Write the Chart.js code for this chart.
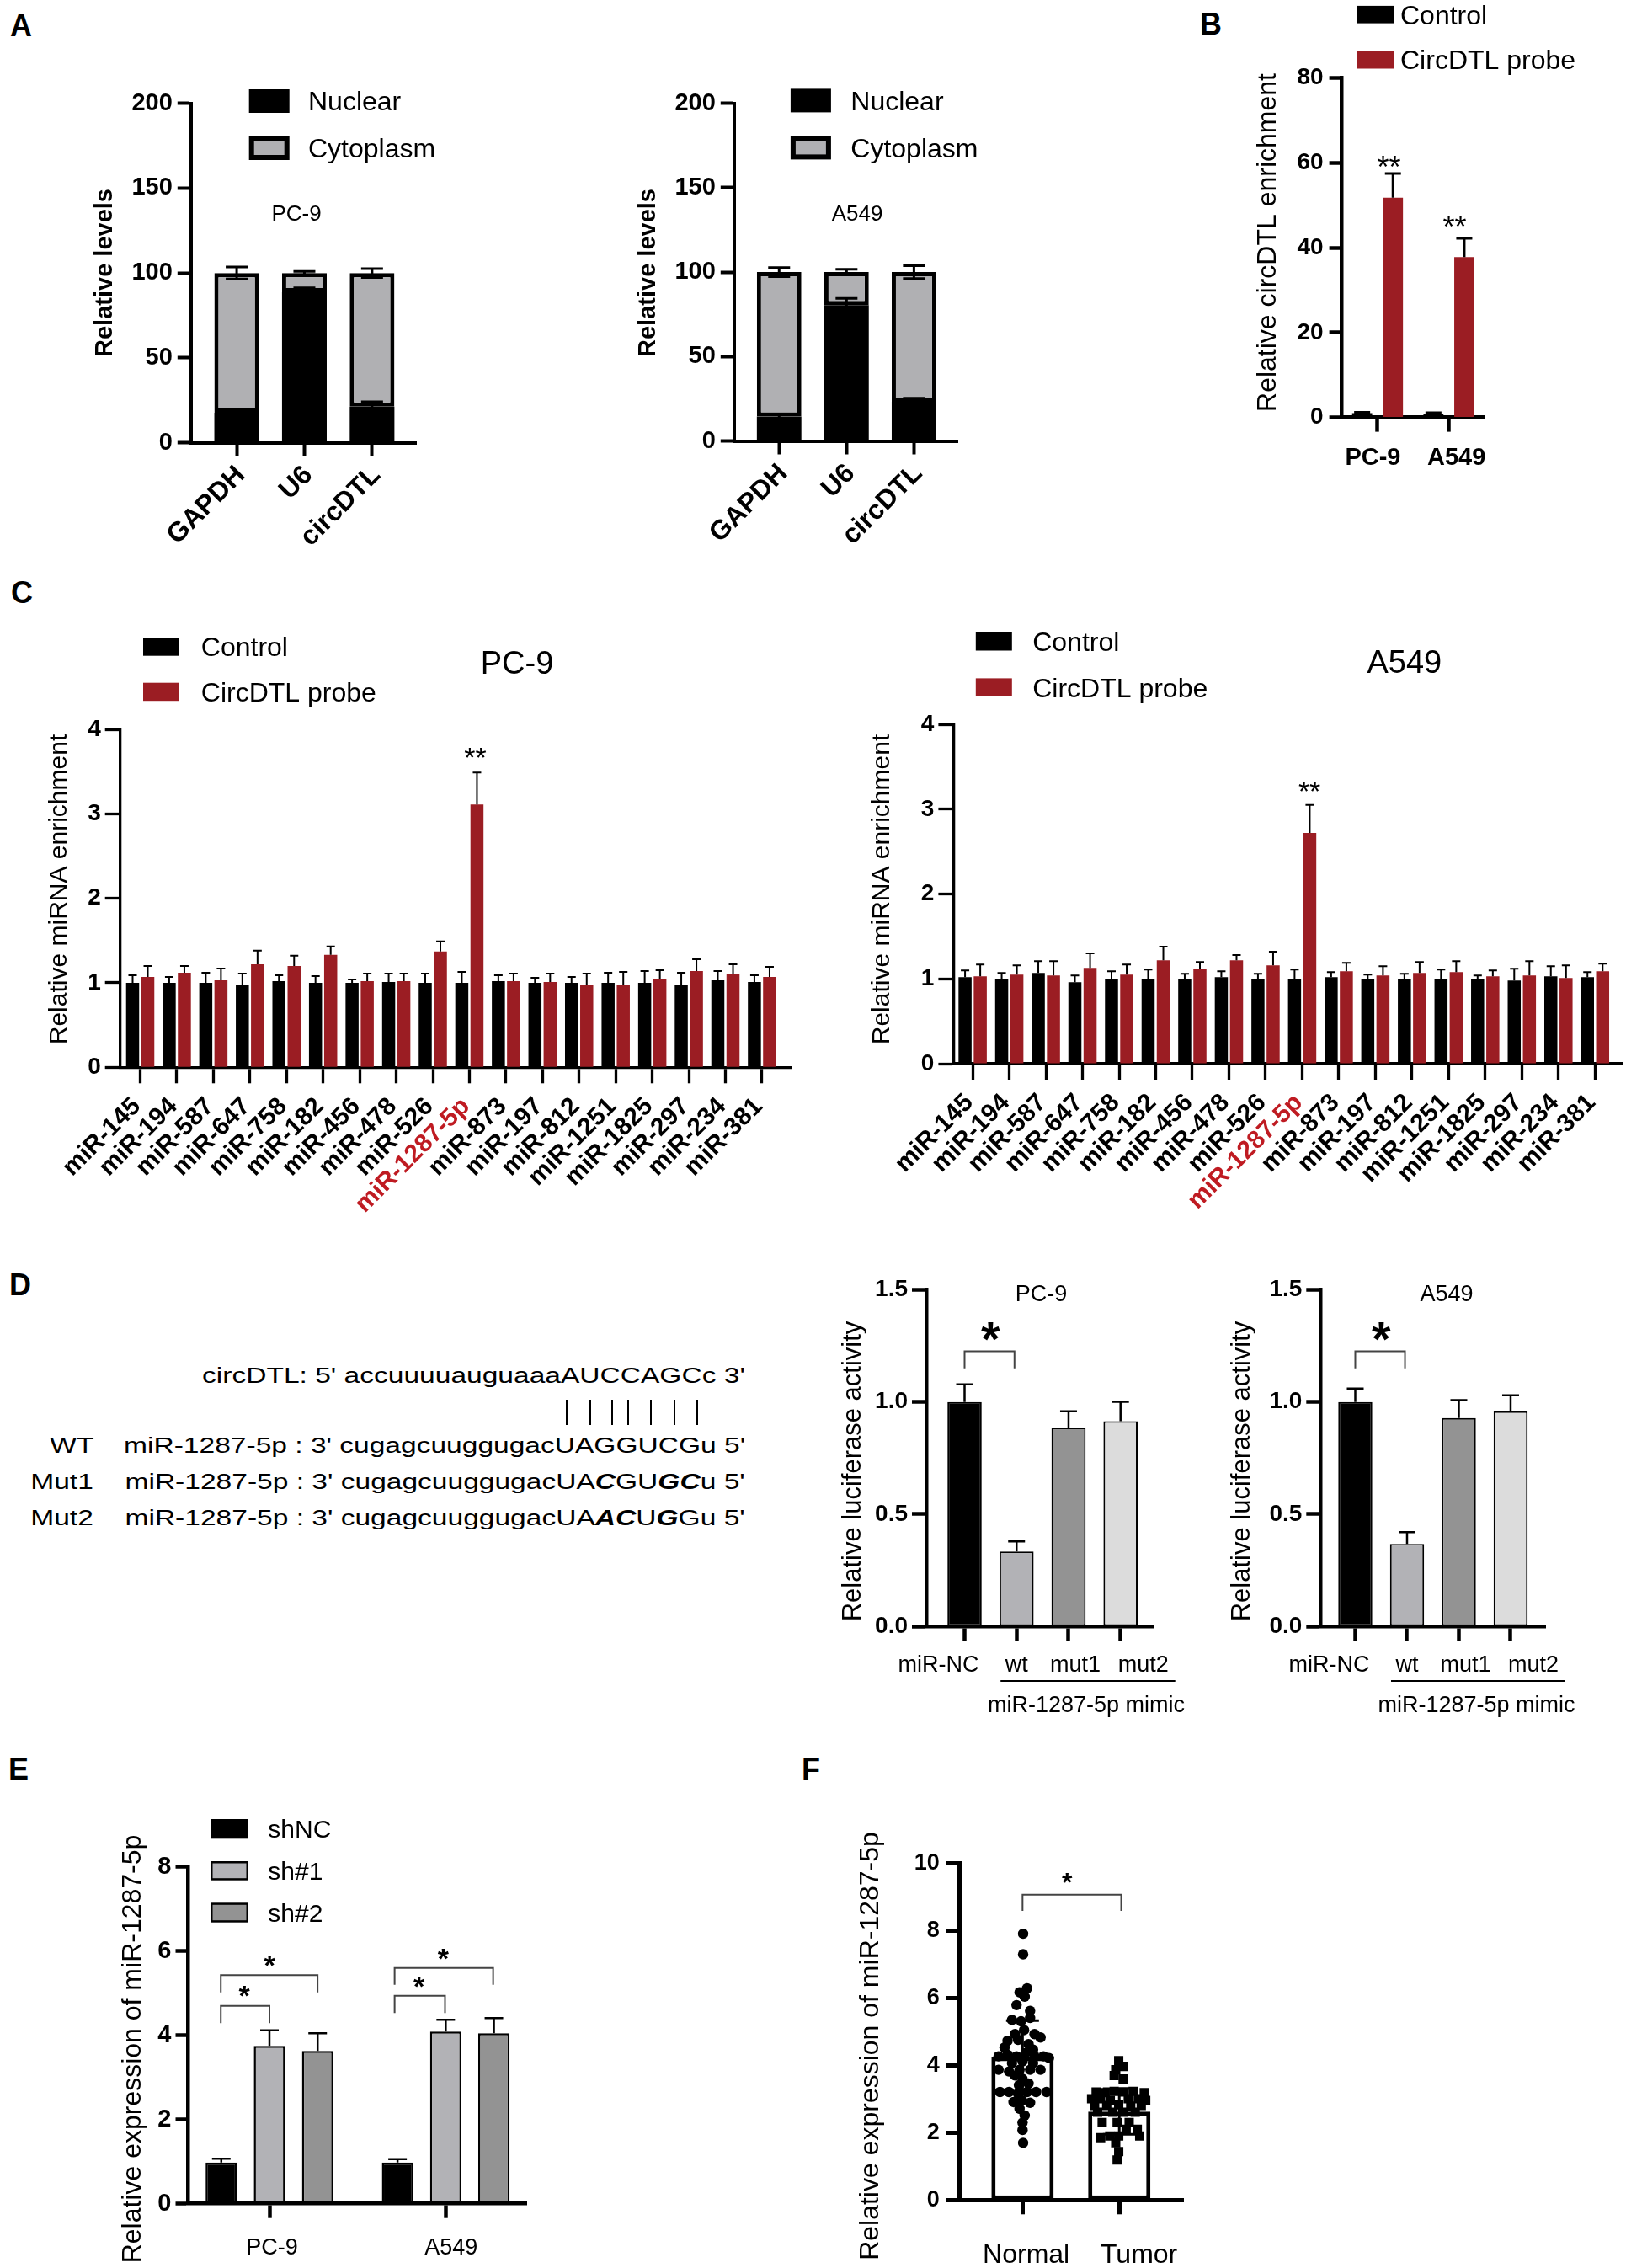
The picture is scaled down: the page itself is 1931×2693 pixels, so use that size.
<!DOCTYPE html>
<html>
<head>
<meta charset="utf-8">
<script src="https://cdn.jsdelivr.net/npm/chart.js@4.4.1/dist/chart.umd.min.js"></script>
<style>
  html, body { margin: 0; padding: 0; background: #fff; overflow: hidden; }
  #page { position: relative; width: 1931px; height: 2693px; overflow: hidden; background: #fff;
          font-family: "Liberation Sans", Arial, Helvetica, sans-serif; color: #000; }
  .lt { position: absolute; font-weight: bold; font-size: 36px; line-height: 36px; }
  .seq { position: absolute; font-size: 26px; line-height: 26px; white-space: nowrap;
         transform-origin: right center; transform: scaleX(1.29); }
  .pair { position: absolute; top: 1662px; width: 2px; height: 30px; background: #000; }
</style>
</head>
<body>
<div id="page">
  <div class="lt" style="left:12px;top:13px">A</div>
  <div class="lt" style="left:1425px;top:11px">B</div>
  <div class="lt" style="left:13px;top:686px">C</div>
  <div class="lt" style="left:11px;top:1508px">D</div>
  <div class="lt" style="left:10px;top:2083px">E</div>
  <div class="lt" style="left:952px;top:2083px">F</div>

  <!-- D: binding site sequences -->
  <div class="seq" style="right:1046px;top:1620px">circDTL: 5' accuuuuauguaaaAUCCAGCc 3'</div>
  <div class="pair" style="left:672px"></div>
  <div class="pair" style="left:700px"></div>
  <div class="pair" style="left:726px"></div>
  <div class="pair" style="left:745px"></div>
  <div class="pair" style="left:772px"></div>
  <div class="pair" style="left:800px"></div>
  <div class="pair" style="left:827px"></div>
  <div class="seq" style="right:1820px;top:1703px">WT</div>
  <div class="seq" style="right:1046px;top:1703px">miR-1287-5p : 3' cugagcuuggugacUAGGUCGu 5'</div>
  <div class="seq" style="right:1820px;top:1746px">Mut1</div>
  <div class="seq" style="right:1046px;top:1746px">miR-1287-5p : 3' cugagcuuggugacUA<b><i>C</i></b>GU<b><i>GC</i></b>u 5'</div>
  <div class="seq" style="right:1820px;top:1789px">Mut2</div>
  <div class="seq" style="right:1046px;top:1789px">miR-1287-5p : 3' cugagcuuggugacUA<b><i>AC</i></b>U<b><i>G</i></b>Gu 5'</div>
</div>

<script>
const FONT = '"Liberation Sans", Arial, Helvetica, sans-serif';
const RED = '#9b1d23';
const RED_TXT = '#bf1b22';
const GRAY_A = '#b0b0b3';
const GRAY_L = '#b2b2b6';
const GRAY_D = '#939393';
const GRAY_XL = '#dcdcdc';

// ---- A: nuclear / cytoplasm fractions ----
const fracCats = ['GAPDH', 'U6', 'circDTL'];
const nucPC9 = [17.7, 88.7, 21.3];
const nucErrPC9 = [0.6, 2.6, 2.8];
const cytoPC9 = [82.3, 11.3, 78.7];
const cytoErrPC9 = [3.5, 1.0, 2.6];
const nucA549 = [14.5, 80.5, 23.2];
const nucErrA549 = [1.5, 3.9, 2.1];
const cytoA549 = [85.5, 19.5, 76.8];
const cytoErrA549 = [2.7, 1.7, 3.8];

// ---- B: circDTL pull-down ----
const pullCats = ['PC-9', 'A549'];
const pullCtrl = [1.0, 0.9];
const pullCtrlErr = [0.2, 0.2];
const pullProbe = [51.8, 37.8];
const pullProbeErr = [5.7, 4.4];

// ---- C: miRNA enrichment ----
const mirCats = ['miR-145', 'miR-194', 'miR-587', 'miR-647', 'miR-758', 'miR-182', 'miR-456', 'miR-478', 'miR-526',
  'miR-1287-5p', 'miR-873', 'miR-197', 'miR-812', 'miR-1251', 'miR-1825', 'miR-297', 'miR-234', 'miR-381'];
const mirCtrlPC9 = [1.0, 1.0, 1.0, 0.98, 1.02, 1.0, 1.0, 1.01, 1.0, 1.0, 1.02, 1.0, 1.0, 1.0, 1.0, 0.97, 1.03, 1.01];
const mirCtrlErrPC9 = [0.09, 0.07, 0.12, 0.13, 0.07, 0.08, 0.04, 0.10, 0.11, 0.13, 0.07, 0.06, 0.07, 0.12, 0.14, 0.15, 0.11, 0.08];
const mirProbePC9 = [1.07, 1.12, 1.03, 1.22, 1.2, 1.33, 1.02, 1.02, 1.37, 3.11, 1.02, 1.01, 0.97, 0.98, 1.04, 1.14, 1.11, 1.07];
const mirProbeErrPC9 = [0.13, 0.08, 0.14, 0.16, 0.12, 0.10, 0.09, 0.09, 0.12, 0.38, 0.09, 0.10, 0.14, 0.15, 0.11, 0.14, 0.11, 0.12];
const mirCtrlA549 = [1.02, 1.0, 1.07, 0.96, 1.0, 1.0, 1.0, 1.02, 1.0, 1.0, 1.02, 1.0, 1.0, 1.0, 1.0, 0.98, 1.03, 1.02];
const mirCtrlErrA549 = [0.08, 0.07, 0.14, 0.08, 0.09, 0.11, 0.06, 0.07, 0.06, 0.11, 0.06, 0.05, 0.06, 0.11, 0.04, 0.14, 0.12, 0.06];
const mirProbeA549 = [1.03, 1.05, 1.04, 1.13, 1.05, 1.22, 1.12, 1.22, 1.16, 2.72, 1.09, 1.04, 1.07, 1.08, 1.03, 1.04, 1.01, 1.09];
const mirProbeErrA549 = [0.14, 0.11, 0.17, 0.17, 0.12, 0.16, 0.08, 0.06, 0.16, 0.33, 0.10, 0.11, 0.13, 0.13, 0.07, 0.17, 0.15, 0.09];

// ---- D: luciferase ----
const lucCats = ['miR-NC', 'wt', 'mut1', 'mut2'];
const lucPC9 = [1.0, 0.333, 0.886, 0.914];
const lucErrPC9 = [0.079, 0.045, 0.072, 0.087];
const lucA549 = [1.0, 0.367, 0.928, 0.958];
const lucErrA549 = [0.06, 0.053, 0.08, 0.072];

// ---- E: knockdown ----
const shCats = ['PC-9', 'A549'];
const shNC = [0.98, 0.98];
const shNCErr = [0.09, 0.08];
const sh1 = [3.75, 4.09];
const sh1Err = [0.37, 0.28];
const sh2 = [3.63, 4.05];
const sh2Err = [0.42, 0.36];

// ---- F: tissues ----
const tisCats = ['Normal', 'Tumor'];
const tisMean = [4.25, 2.63];
const tisSD = [1.08, 0.68];
const normalY = [7.91, 7.30, 6.29, 6.17, 6.04, 5.79, 5.62, 5.35, 5.31, 5.41, 5.05, 4.93, 4.93, 4.73, 4.76, 4.63, 4.83,
  4.27, 4.32, 4.27, 4.37, 4.27, 4.27, 4.22, 3.87, 3.82, 3.87, 3.87, 3.87, 3.70, 3.60, 3.46, 3.41, 3.21, 3.21, 3.16,
  3.21, 3.21, 3.21, 2.91, 2.96, 2.89, 2.71, 2.51, 2.30, 2.08, 1.70, 4.53, 4.47, 4.07, 4.07, 4.12];
const normalX = [0.006, 0.006, 0.047, -0.031, 0.022, -0.062, 0.078, -0.109, -0.016, 0.078, 0.016, -0.078, 0.124,
  -0.155, -0.047, 0.062, 0.186, -0.248, -0.155, -0.062, 0.031, 0.124, 0.217, 0.273, -0.248, -0.140, -0.031, 0.078,
  0.186, -0.078, 0, 0.062, -0.037, -0.233, -0.140, -0.047, 0.047, 0.140, 0.248, -0.093, -0.006, 0.078, -0.031, 0.022,
  0, 0, 0.006, -0.186, 0.109, -0.109, 0.109, 0];
const tumorY = [4.14, 3.97, 3.87, 3.70, 3.60, 3.21, 3.19, 3.23, 3.21, 3.23, 3.19, 3.01, 2.96, 3.01, 3.01, 2.81, 2.81,
  2.83, 2.79, 2.81, 2.61, 2.61, 2.30, 2.30, 2.30, 2.10, 2.10, 1.85, 1.90, 1.90, 1.90, 1.70, 1.44, 1.19, 2.61, 2.61,
  2.96, 3.01];
const tumorX = [-0.006, 0.040, -0.037, -0.053, 0.040, -0.239, -0.146, -0.053, 0.040, 0.143, 0.258, -0.193, -0.093,
  0.093, 0.196, -0.255, -0.130, -0.006, 0.118, 0.227, -0.068, 0.040, -0.177, -0.022, 0.102, 0.071, 0.186, -0.193,
  -0.099, -0.006, 0.211, -0.037, -0.006, -0.022, -0.224, 0.165, 0.273, -0.286];

Chart.defaults.font.family = FONT;
Chart.defaults.color = '#000';

function drawTxt(ctx, s, x, y, size, weight, align, rot, color, star) {
  ctx.save();
  ctx.font = (weight || 'normal') + ' ' + size + 'px ' + FONT;
  ctx.fillStyle = color || '#000';
  ctx.textAlign = align || 'center';
  ctx.textBaseline = 'alphabetic';
  ctx.translate(x, y);
  if (rot) ctx.rotate(rot * Math.PI / 180);
  ctx.fillText(s, 0, (star ? 0.57 : 0.358) * size);
  ctx.restore();
}

// error bars, brackets, legends, labels
const deco = {
  id: 'deco',
  afterDatasetDraw(chart, args, o) {
    const ds = chart.data.datasets[args.index];
    if (!ds.errors) return;
    const ys = chart.scales.y, ctx = chart.ctx;
    ctx.save();
    ctx.strokeStyle = '#000';
    ctx.lineWidth = o.errWidth;
    args.meta.data.forEach((bar, j) => {
      const v = ys.getValueForPixel(bar.y);
      const hi = ys.getPixelForValue(v + ds.errors[j]);
      const lo = o.errBoth ? ys.getPixelForValue(v - ds.errors[j]) : bar.y;
      ctx.beginPath();
      ctx.moveTo(bar.x, lo); ctx.lineTo(bar.x, hi);
      ctx.moveTo(bar.x - o.errCap, hi); ctx.lineTo(bar.x + o.errCap, hi);
      if (o.errBoth) { ctx.moveTo(bar.x - o.errCap, lo); ctx.lineTo(bar.x + o.errCap, lo); }
      ctx.stroke();
    });
    ctx.restore();
  },
  afterDraw(chart, args, o) {
    const ctx = chart.ctx, xs = chart.scales.x, ys = chart.scales.y;
    const ox = o.origin[0], oy = o.origin[1];
    ctx.save();
    (o.brackets || []).forEach(b => {
      ctx.strokeStyle = '#444';
      ctx.lineWidth = 2;
      const x1 = xs.getPixelForValue(b.x1), x2 = xs.getPixelForValue(b.x2);
      const yt = ys.getPixelForValue(b.top), ye = ys.getPixelForValue(b.end);
      ctx.beginPath();
      ctx.moveTo(x1, ye); ctx.lineTo(x1, yt); ctx.lineTo(x2, yt); ctx.lineTo(x2, ye);
      ctx.stroke();
    });
    (o.hlines || []).forEach(l => {
      ctx.strokeStyle = '#000';
      ctx.lineWidth = 2;
      ctx.beginPath();
      ctx.moveTo(xs.getPixelForValue(l.x1) + l.dx1, l.y - oy);
      ctx.lineTo(xs.getPixelForValue(l.x2) + l.dx2, l.y - oy);
      ctx.stroke();
    });
    (o.marks || []).forEach(m => {
      drawTxt(ctx, m.t, xs.getPixelForValue(m.x), ys.getPixelForValue(m.y), m.size, m.weight, 'center', 0, '#000', true);
    });
    (o.xlabels || []).forEach(l => {
      drawTxt(ctx, l.t, xs.getPixelForValue(l.x) + l.dx, l.y - oy, l.size, l.weight, 'center');
    });
    (o.texts || []).forEach(t => {
      drawTxt(ctx, t.t, t.x - ox, t.y - oy, t.size, t.weight, 'center', t.rot);
    });
    (o.legend || []).forEach(l => {
      const x1 = l.x1 - ox, y1 = l.y1 - oy, w = l.x2 - l.x1, h = l.y2 - l.y1;
      if (l.bw) {
        ctx.fillStyle = '#000';
        ctx.fillRect(x1, y1, w, h);
        ctx.fillStyle = l.fill;
        ctx.fillRect(x1 + l.bw, y1 + l.bw, w - 2 * l.bw, h - 2 * l.bw);
      } else {
        ctx.fillStyle = l.fill;
        ctx.fillRect(x1, y1, w, h);
      }
      drawTxt(ctx, l.label, l.tx - ox, (l.y1 + l.y2) / 2 - oy, l.size, 'normal', 'left');
    });
    ctx.restore();
  }
};
Chart.register(deco);

function pts(vals) { return vals.map((v, i) => ({x: i, y: v})); }

function yAx(max, step, o) {
  const ticks = {stepSize: step, padding: o.pad, color: '#000', font: {family: FONT, size: o.fs, weight: 'bold'}};
  if (o.fmt) ticks.callback = o.fmt;
  return {
    min: 0, max: max, ticks: ticks,
    grid: {display: true, drawOnChartArea: false, drawTicks: true, tickLength: o.tl, tickWidth: o.lw, tickColor: '#000'},
    border: {display: true, color: '#000', width: o.lw}
  };
}

function xLin(cats, lo, hi, o) {
  const ticks = o.labels
    ? {autoSkip: false, maxRotation: 45, minRotation: 45, padding: o.pad, labelOffset: o.shift || 0,
       color: o.color || '#000', font: {family: FONT, size: o.fs, weight: 'bold'}, callback: v => cats[v]}
    : {display: false};
  return {
    type: 'linear', bounds: 'data', min: lo, max: hi, offset: false,
    afterBuildTicks: s => { s.ticks = cats.map((c, i) => ({value: i})); },
    ticks: ticks,
    grid: {display: true, offset: false, drawOnChartArea: false, drawTicks: true, tickLength: o.tl, tickWidth: o.lw, tickColor: '#000'},
    border: {display: true, color: '#000', width: o.lw}
  };
}

// place a chart so that its plot area lands on the given page rectangle
function makeChart(box, area, cfg) {
  const [x0, y0, w, h] = box;
  const [L, T, R, B] = area;
  const cv = document.createElement('canvas');
  cv.width = w; cv.height = h;
  cv.style.cssText = 'position:absolute;left:' + x0 + 'px;top:' + y0 + 'px;width:' + w + 'px;height:' + h + 'px';
  document.getElementById('page').appendChild(cv);
  const o = cfg.options;
  o.responsive = false;
  o.animation = false;
  o.devicePixelRatio = 1;
  o.layout = {padding: {left: 0, top: T - y0, right: x0 + w - R, bottom: 0}};
  o.scales.x.afterFit = s => { s.height = y0 + h - B; };
  o.scales.y.afterFit = s => { s.width = L - x0; };
  o.plugins.legend = {display: false};
  o.plugins.tooltip = {enabled: false};
  o.plugins.deco.origin = [x0, y0];
  return new Chart(cv, cfg);
}

// ---------- A ----------
function fractionChart(box, area, lo, hi, nuc, nucErr, cyto, cytoErr, cell, cellX, titleX, legX, boxX, legY) {
  makeChart(box, area, {
    type: 'bar',
    data: {datasets: [
      {label: 'Nuclear', data: pts(nuc), backgroundColor: '#000', borderWidth: 0, errors: nucErr},
      {label: 'Cytoplasm', data: pts(cyto), backgroundColor: GRAY_A, borderColor: '#000', borderWidth: 5,
       borderSkipped: false, errors: cytoErr}
    ]},
    options: {
      datasets: {bar: {categoryPercentage: 1, barPercentage: 0.66}},
      scales: {
        x: Object.assign(xLin(fracCats, lo, hi, {labels: true, fs: 32, tl: 16, lw: 4, pad: 4, shift: 5}), {stacked: true}),
        y: Object.assign(yAx(200, 50, {fs: 29, pad: 6, tl: 16, lw: 4}), {stacked: true})
      },
      plugins: {deco: {
        errWidth: 3, errCap: 13, errBoth: true,
        texts: [
          {t: cell, x: cellX, y: 253, size: 26},
          {t: 'Relative levels', x: titleX, y: 324, size: 29, weight: 'bold', rot: -90}
        ],
        legend: [
          {x1: boxX, y1: legY, x2: boxX + 48, y2: legY + 28, fill: '#000', label: 'Nuclear', tx: legX, size: 32},
          {x1: boxX, y1: legY + 56, x2: boxX + 48, y2: legY + 84, fill: GRAY_A, bw: 6, label: 'Cytoplasm', tx: legX, size: 32}
        ]
      }}
    }
  });
}
fractionChart([40, 60, 560, 660], [226.8, 122.7, 494.6, 525.6], -0.675, 2.656,
  nucPC9, nucErrPC9, cytoPC9, cytoErrPC9, 'PC-9', 352, 123, 366, 295.7, 106);
fractionChart([640, 60, 600, 660], [871.8, 122.7, 1137.9, 523.5], -0.668, 2.656,
  nucA549, nucErrA549, cytoA549, cytoErrA549, 'A549', 1018, 767.5, 1010.3, 938.9, 105.4);

// ---------- B ----------
makeChart([1380, 0, 551, 580], [1593.6, 92.6, 1763, 495.6], {
  type: 'bar',
  data: {labels: pullCats, datasets: [
    {label: 'Control', data: pullCtrl, backgroundColor: '#000', errors: pullCtrlErr},
    {label: 'CircDTL probe', data: pullProbe, backgroundColor: RED, errors: pullProbeErr}
  ]},
  options: {
    datasets: {bar: {categoryPercentage: 0.864, barPercentage: 0.65}},
    scales: {
      x: {type: 'category', offset: true, ticks: {display: false},
          grid: {display: true, offset: false, drawOnChartArea: false, drawTicks: true, tickLength: 17, tickWidth: 4.5, tickColor: '#000'},
          border: {display: true, color: '#000', width: 4.5}},
      y: yAx(80, 20, {fs: 28, pad: 7, tl: 15, lw: 4.5})
    },
    plugins: {deco: {
      errWidth: 3, errCap: 9.5,
      marks: [{t: '**', x: 0.16, y: 60.5, size: 36}, {t: '**', x: 1.08, y: 46.4, size: 36}],
      xlabels: [{t: pullCats[0], x: 0, dx: -5.5, y: 541.6, size: 29, weight: 'bold'},
                {t: pullCats[1], x: 1, dx: 9, y: 541.6, size: 29, weight: 'bold'}],
      texts: [{t: 'Relative circDTL enrichment', x: 1503.7, y: 288, size: 32, rot: -90}],
      legend: [
        {x1: 1612, y1: 6.9, x2: 1655, y2: 27.6, fill: '#000', label: 'Control', tx: 1663, size: 32},
        {x1: 1612, y1: 60.5, x2: 1655, y2: 81.5, fill: RED, label: 'CircDTL probe', tx: 1663, size: 32}
      ]
    }}
  }
});

// ---------- C ----------
function mirChart(box, area, lo, hi, ctrl, ctrlErr, probe, probeErr, cell, cellX, cellY, titleX, starX, starY, boxX, boxY1, boxY2, legX) {
  makeChart(box, area, {
    type: 'bar',
    data: {datasets: [
      {label: 'Control', data: pts(ctrl), backgroundColor: '#000', errors: ctrlErr},
      {label: 'CircDTL probe', data: pts(probe), backgroundColor: RED, errors: probeErr}
    ]},
    options: {
      datasets: {bar: {categoryPercentage: 0.83, barPercentage: 0.86}},
      scales: {
        x: xLin(mirCats, lo, hi, {labels: true, fs: 30, tl: 19, lw: 3.3, pad: 10, shift: -4,
                                 color: c => (c.index === 9 ? RED_TXT : '#000')}),
        y: yAx(4, 1, {fs: 28, pad: 5, tl: 18, lw: 3.3})
      },
      plugins: {deco: {
        errWidth: 2, errCap: 5,
        marks: [{t: '**', x: starX, y: starY, size: 34}],
        texts: [
          {t: cell, x: cellX, y: cellY, size: 38},
          {t: 'Relative miRNA enrichment', x: titleX, y: 1056, size: 30, rot: -90}
        ],
        legend: [
          {x1: boxX, y1: boxY1, x2: boxX + 43, y2: boxY1 + 21.5, fill: '#000', label: 'Control', tx: legX, size: 32},
          {x1: boxX, y1: boxY2, x2: boxX + 43, y2: boxY2 + 21.5, fill: RED, label: 'CircDTL probe', tx: legX, size: 32}
        ]
      }}
    }
  });
}
mirChart([0, 730, 965, 770], [142.7, 866, 939.7, 1267.3], -0.548, 17.8,
  mirCtrlPC9, mirCtrlErrPC9, mirProbePC9, mirProbeErrPC9, 'PC-9', 614, 786.6, 68.5, 9.16, 3.74, 170, 757.2, 810.7, 238.8);
mirChart([965, 730, 975, 770], [1132.4, 860.2, 1926, 1263], -0.522, 17.73,
  mirCtrlA549, mirCtrlErrA549, mirProbeA549, mirProbeErrA549, 'A549', 1667.8, 785.6, 1045.6, 9.2, 3.29, 1158.8, 751, 805.4, 1226.2);

// ---------- D ----------
function lucChart(box, area, lo, hi, vals, errs, cell, cellX, titleX) {
  const offs = [-31, 0, 8, 27];
  makeChart(box, area, {
    type: 'bar',
    data: {datasets: [
      {data: pts(vals), backgroundColor: ['#000', GRAY_L, GRAY_D, GRAY_XL], borderColor: '#000', borderWidth: 2,
       borderSkipped: false, errors: errs}
    ]},
    options: {
      datasets: {bar: {categoryPercentage: 1, barPercentage: 0.658}},
      scales: {
        x: xLin(lucCats, lo, hi, {labels: false, tl: 17, lw: 4.5}),
        y: yAx(1.5, 0.5, {fs: 28, pad: 5, tl: 17, lw: 4.5, fmt: v => v.toFixed(1)})
      },
      plugins: {deco: {
        errWidth: 2.5, errCap: 10,
        brackets: [{x1: 0, x2: 0.96, top: 1.226, end: 1.15}],
        marks: [{t: '*', x: 0.5, y: 1.33, size: 58, weight: 'bold'}],
        xlabels: lucCats.map((t, i) => ({t: t, x: i, dx: offs[i], y: 1975, size: 27}))
          .concat([{t: 'miR-1287-5p mimic', x: 2, dx: 21, y: 2023, size: 27}]),
        hlines: [{x1: 1, dx1: -19, x2: 3, dx2: 65, y: 1996}],
        texts: [
          {t: cell, x: cellX, y: 1535, size: 27},
          {t: 'Relative luciferase activity', x: titleX, y: 1747, size: 31, rot: -90}
        ]
      }}
    }
  });
}
lucChart([960, 1500, 460, 560], [1100, 1531.5, 1370.4, 1931], -0.737, 3.643, lucPC9, lucErrPC9, 'PC-9', 1236.6, 1011);
lucChart([1420, 1500, 511, 560], [1568.3, 1531.5, 1835, 1931], -0.67, 3.667, lucA549, lucErrA549, 'A549', 1718, 1473);

// ---------- E ----------
makeChart([0, 2130, 700, 563], [223.5, 2216.7, 625, 2616.7], {
  type: 'bar',
  data: {datasets: [
    {label: 'shNC', data: pts(shNC), backgroundColor: '#000', borderColor: '#000', borderWidth: 2.5, borderSkipped: false, errors: shNCErr},
    {label: 'sh#1', data: pts(sh1), backgroundColor: GRAY_L, borderColor: '#000', borderWidth: 2.5, borderSkipped: false, errors: sh1Err},
    {label: 'sh#2', data: pts(sh2), backgroundColor: GRAY_D, borderColor: '#000', borderWidth: 2.5, borderSkipped: false, errors: sh2Err}
  ]},
  options: {
    datasets: {bar: {categoryPercentage: 0.82, barPercentage: 0.65}},
    scales: {
      x: xLin(shCats, -0.461, 1.457, {labels: false, tl: 17, lw: 4.5}),
      y: yAx(8, 2, {fs: 29, pad: 5, tl: 15, lw: 4.5})
    },
    plugins: {deco: {
      errWidth: 2.5, errCap: 11,
      brackets: [
        {x1: -0.276, x2: 0, top: 4.70, end: 4.29},
        {x1: -0.276, x2: 0.273, top: 5.43, end: 5.02},
        {x1: 0.71, x2: 0.996, top: 4.94, end: 4.53},
        {x1: 0.71, x2: 1.269, top: 5.60, end: 5.20}
      ],
      marks: [
        {t: '*', x: -0.143, y: 5.10, size: 34, weight: 'bold'},
        {t: '*', x: 0, y: 5.83, size: 34, weight: 'bold'},
        {t: '*', x: 0.848, y: 5.32, size: 34, weight: 'bold'},
        {t: '*', x: 0.986, y: 5.99, size: 34, weight: 'bold'}
      ],
      xlabels: [{t: shCats[0], x: 0, dx: 3, y: 2667.6, size: 27}, {t: shCats[1], x: 1, dx: 6.5, y: 2667.6, size: 27}],
      texts: [{t: 'Relative expression of miR-1287-5p', x: 156, y: 2433, size: 32, rot: -90}],
      legend: [
        {x1: 250, y1: 2160, x2: 295, y2: 2183.3, fill: '#000', label: 'shNC', tx: 318.3, size: 30},
        {x1: 250, y1: 2210, x2: 295, y2: 2232.7, fill: GRAY_L, bw: 2.5, label: 'sh#1', tx: 318.3, size: 30},
        {x1: 250, y1: 2259.3, x2: 295, y2: 2282.7, fill: GRAY_D, bw: 2.5, label: 'sh#2', tx: 318.3, size: 30}
      ]
    }}
  }
});

// ---------- F ----------
makeChart([900, 2130, 600, 563], [1139.3, 2212.6, 1405.3, 2612.3], {
  type: 'bar',
  data: {datasets: [
    {type: 'scatter', data: normalY.map((y, i) => ({x: normalX[i], y: y})), pointStyle: 'circle', pointRadius: 6.2,
     backgroundColor: '#000', borderWidth: 0},
    {type: 'scatter', data: tumorY.map((y, i) => ({x: 1 + tumorX[i], y: y})), pointStyle: 'rect', pointRadius: 7.8,
     backgroundColor: '#000', borderWidth: 0},
    {type: 'bar', data: pts(tisMean), backgroundColor: '#fff', borderColor: '#000', borderWidth: 5, borderSkipped: false,
     errors: tisSD}
  ]},
  options: {
    datasets: {bar: {categoryPercentage: 1, barPercentage: 0.644}},
    scales: {
      x: xLin(tisCats, -0.653, 1.662, {labels: false, tl: 17, lw: 5}),
      y: yAx(10, 2, {fs: 27, pad: 7.5, tl: 16, lw: 5})
    },
    plugins: {deco: {
      errWidth: 3, errCap: 19.5, errBoth: true,
      brackets: [{x1: 0, x2: 1.02, top: 9.07, end: 8.59}],
      marks: [{t: '*', x: 0.46, y: 9.63, size: 32, weight: 'bold'}],
      xlabels: [{t: tisCats[0], x: 0, dx: 4.3, y: 2676, size: 32}, {t: tisCats[1], x: 1, dx: 23.4, y: 2676, size: 32}],
      texts: [{t: 'Relative expression of miR-1287-5p', x: 1032, y: 2429.5, size: 32, rot: -90}]
    }}
  }
});
</script>
</body>
</html>
